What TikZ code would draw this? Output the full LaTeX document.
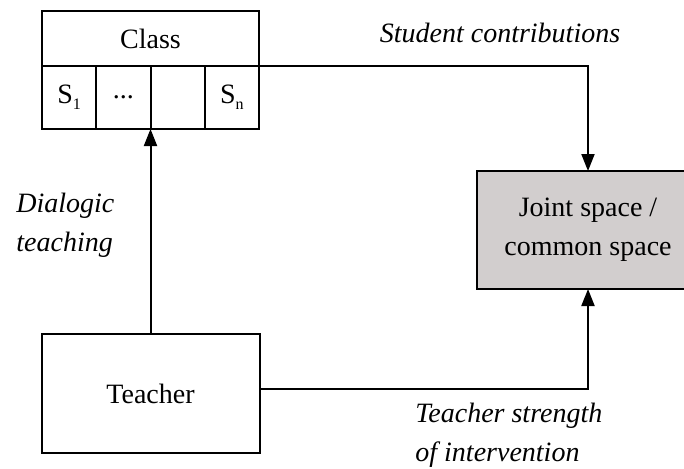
\documentclass[tikz,border=0pt]{standalone}
\usepackage{fontspec}
\setmainfont{Liberation Serif}
\usepackage{tikz}
\usetikzlibrary{positioning,arrows.meta}
\definecolor{jointgray}{RGB}{210,206,206}
\newcommand{\subidx}[1]{\raisebox{-3pt}{\fontsize{8}{8}\selectfont #1}}
\tikzset{%
  flow/.style = {-{Triangle[length=8.5pt,width=6.5pt]},line width=1pt},
  box/.style = {rectangle,draw,line width=1pt,outer sep=0pt},
  cell/.style = {box,minimum width=27.125pt,minimum height=31.5pt,inner sep=0pt},
  lbl/.style = {inner sep=0pt,align=left,font=\fontsize{14}{19.5}\selectfont\itshape}
}

\begin{document}
\begin{tikzpicture}[
x=0.5pt, y=-0.5pt,
font=\fontsize{14}{19.5}\selectfont
]
\useasboundingbox (0,0) rectangle (684,468);
% class with its students
\node[box,minimum width=108.5pt,minimum height=27.5pt] (class) at (150.5,38.5) {Class};
\node[cell,below right=0pt of class.south west] (s1) {S\subidx{1}};
\node[cell,right=0pt of s1] (s2) {...};
\node[cell,right=0pt of s2] (s3) {};
\node[cell,right=0pt of s3] (sn) {S\subidx{n}};
% teacher and joint space
\node[box,minimum width=109pt,minimum height=59.5pt] (teacher) at (150.5,393.5) {Teacher};
\node[box,fill=jointgray,align=center,minimum width=111pt,minimum height=59pt] (joint) at (588,230) {Joint space /\\common space};
% arrows
\draw[flow] (sn.north east) -| (joint.north);
\draw[flow] (teacher.north) -- (s2.south east);
\draw[flow] ([yshift=2.25pt]teacher.east) -| (joint.south);
% labels
\node[lbl,anchor=base] (lstudent) at (500,42) {Student contributions};
\node[lbl,anchor=west] (ldialogic) at (16,225) {Dialogic\\teaching};
\node[lbl,anchor=west] (lstrength) at (415,435) {Teacher strength\\of intervention};
\end{tikzpicture}
\end{document}
